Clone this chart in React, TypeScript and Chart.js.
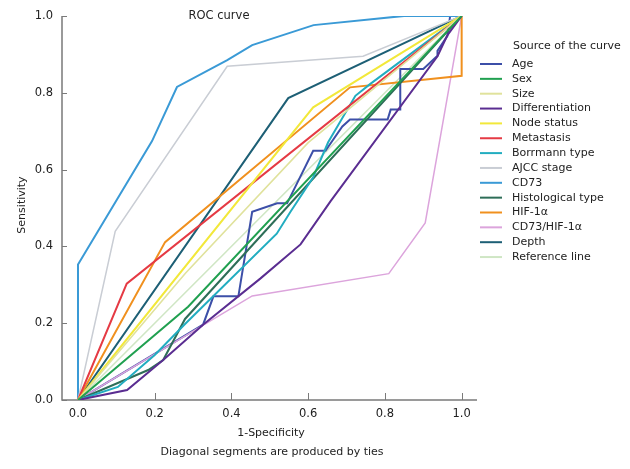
import React, { useEffect, useRef } from 'react';
import { Chart, registerables } from 'chart.js';

Chart.register(...registerables);

type P = [number, number];

// ---- data (1-Specificity, Sensitivity) ----
const seriesNames = [
  'Age', 'Sex', 'Size', 'Differentiation', 'Node status', 'Metastasis', 'Borrmann type',
  'AJCC stage', 'CD73', 'Histological type', 'HIF-1α', 'CD73/HIF-1α', 'Depth', 'Reference line',
];

const age: P[] = [
  [0, 0], [0.326, 0.196], [0.353, 0.27], [0.418, 0.27], [0.454, 0.49], [0.519, 0.512],
  [0.545, 0.512], [0.613, 0.649], [0.645, 0.649], [0.689, 0.712], [0.709, 0.73], [0.807, 0.73],
  [0.815, 0.756], [0.84, 0.756], [0.84, 0.862], [0.9, 0.862], [0.937, 0.896], [0.937, 0.909],
  [0.963, 0.948], [0.97, 1], [1, 1],
];
const sex: P[] = [[0, 0], [0.287, 0.243], [1, 1]];
const size: P[] = [[0, 0], [0.28, 0.33], [0.6, 0.67], [1, 1]];
const differentiation: P[] = [
  [0, 0], [0.128, 0.026], [0.222, 0.104], [0.326, 0.196], [0.475, 0.316], [0.58, 0.405],
  [0.658, 0.517], [0.937, 0.895], [0.963, 0.95], [1, 1],
];
const nodeStatus: P[] = [[0, 0], [0.613, 0.762], [1, 1]];
const metastasis: P[] = [[0, 0], [0.127, 0.303], [1, 1]];
const borrmann: P[] = [
  [0, 0], [0.104, 0.034], [0.2, 0.117], [0.279, 0.198], [0.518, 0.433], [0.553, 0.489],
  [0.613, 0.58], [0.652, 0.671], [0.723, 0.792], [0.762, 0.823], [1, 1],
];
const ajcc: P[] = [[0, 0], [0.097, 0.439], [0.389, 0.869], [0.743, 0.895], [1, 1]];
const cd73: P[] = [
  [0, 0], [0, 0.353], [0.193, 0.674], [0.258, 0.815], [0.389, 0.885], [0.454, 0.924],
  [0.614, 0.976], [0.85, 1], [1, 1],
];
const histological: P[] = [[0, 0], [0.183, 0.078], [0.222, 0.104], [0.279, 0.211], [1, 1]];
const hif: P[] = [[0, 0], [0.227, 0.411], [0.709, 0.814], [1, 0.844], [1, 1]];
const cd73hif: P[] = [[0, 0], [0.454, 0.271], [0.81, 0.329], [0.905, 0.461], [1, 1]];
const depth: P[] = [[0, 0], [0.548, 0.786], [1, 1]];
const reference: P[] = [[0, 0], [1, 1]];

const seriesData: P[][] = [
  age, sex, size, differentiation, nodeStatus, metastasis, borrmann,
  ajcc, cd73, histological, hif, cd73hif, depth, reference,
];

const seriesColors = [
  '#3c4fa8', '#20a050', '#e0e29c', '#5a2d91', '#f2e83a', '#e53a44', '#22adc0',
  '#c9cdd4', '#3a9ad6', '#2e6e58', '#f0901e', '#dca4dc', '#1d5f75', '#cfe6c4',
];
const seriesWidths = [2, 2, 1.6, 2, 2, 2, 2, 1.5, 2, 2, 2, 1.5, 2, 1.5];
const seriesOrder = [1, 0, 0, 0, 0, 0, 0, 0, 0, 0, 0, 0, 0, 2];

const tickValues = [0, 0.2, 0.4, 0.6, 0.8, 1.0];
const chartTitle = 'ROC curve';
const xTitleLines = ['1-Specificity', 'Diagonal segments are produced by ties'];
const yTitle = 'Sensitivity';
const legendTitle = 'Source of the curve';

const FONT = '"DejaVu Sans", Verdana, sans-serif';
const TEXT = '#222222';

const decorPlugin = {
  id: 'decor',
  beforeDatasetsDraw(chart: any) {
    const ctx = chart.ctx;
    const { left, right, top, bottom } = chart.chartArea;
    const xs = chart.scales.x;
    const ys = chart.scales.y;
    ctx.save();
    ctx.strokeStyle = '#7a7a7a';
    ctx.lineWidth = 1.5;
    ctx.beginPath();
    ctx.moveTo(left, top);
    ctx.lineTo(left, bottom);
    ctx.lineTo(right, bottom);
    ctx.stroke();
    ctx.lineWidth = 1;
    ctx.beginPath();
    tickValues.forEach((v) => {
      const px = Math.round(xs.getPixelForValue(v)) + 0.5;
      ctx.moveTo(px, bottom);
      ctx.lineTo(px, bottom - 7);
      const py = Math.round(ys.getPixelForValue(v)) + 0.5;
      ctx.moveTo(left, py);
      ctx.lineTo(left + 5, py);
    });
    ctx.stroke();
    ctx.restore();
  },
  afterDraw(chart: any) {
    const ctx = chart.ctx;
    ctx.save();
    ctx.fillStyle = TEXT;
    ctx.textBaseline = 'middle';
    // chart title
    ctx.font = `11.5px ${FONT}`;
    ctx.textAlign = 'center';
    ctx.fillText(chartTitle, 219, 16);
    // x title
    ctx.font = `11px ${FONT}`;
    ctx.fillText(xTitleLines[0], 271, 433);
    ctx.fillText(xTitleLines[1], 272, 452);
    // y title
    ctx.save();
    ctx.translate(22, 205);
    ctx.rotate(-Math.PI / 2);
    ctx.fillText(yTitle, 0, 0);
    ctx.restore();
    // legend
    ctx.textAlign = 'left';
    ctx.fillText(legendTitle, 513, 46);
    seriesNames.forEach((name, i) => {
      const y = 64 + i * 14.85;
      ctx.strokeStyle = seriesColors[i];
      ctx.lineWidth = 2;
      ctx.beginPath();
      ctx.moveTo(480, y);
      ctx.lineTo(502, y);
      ctx.stroke();
      ctx.fillStyle = TEXT;
      ctx.fillText(name, 512, y);
    });
    ctx.restore();
  },
};

export default function App() {
  const canvasRef = useRef<HTMLCanvasElement | null>(null);

  useEffect(() => {
    if (!canvasRef.current) return;
    const chart = new Chart(canvasRef.current, {
      type: 'scatter',
      data: {
        datasets: seriesNames.map((name, i) => ({
          label: name,
          data: seriesData[i].map(([x, y]) => ({ x, y })),
          showLine: true,
          borderColor: seriesColors[i],
          backgroundColor: seriesColors[i],
          borderWidth: seriesWidths[i],
          pointRadius: 0,
          pointHoverRadius: 0,
          tension: 0,
          fill: false,
          order: seriesOrder[i],
        })),
      },
      options: {
        animation: false,
        responsive: false,
        maintainAspectRatio: false,
        layout: { padding: { left: 0, top: 15, right: 153, bottom: 0 } },
        plugins: {
          legend: { display: false },
          title: { display: false },
          tooltip: { enabled: false },
        },
        scales: {
          x: {
            type: 'linear',
            min: -0.0417,
            max: 1.04,
            grid: { display: false, drawTicks: false },
            border: { display: false },
            afterBuildTicks: (s: any) => {
              s.ticks = tickValues.map((v) => ({ value: v }));
            },
            afterFit: (s: any) => {
              s.height = 69;
            },
            ticks: {
              autoSkip: false,
              maxRotation: 0,
              padding: 7,
              color: TEXT,
              font: { family: FONT, size: 11.5 },
              callback: (v: any) => Number(v).toFixed(1),
            },
          },
          y: {
            type: 'linear',
            min: 0,
            max: 1,
            grid: { display: false, drawTicks: false },
            border: { display: false },
            afterBuildTicks: (s: any) => {
              s.ticks = tickValues.map((v) => ({ value: v }));
            },
            afterFit: (s: any) => {
              s.width = 62;
            },
            ticks: {
              autoSkip: false,
              padding: 9,
              color: TEXT,
              font: { family: FONT, size: 11.5 },
              callback: (v: any) => Number(v).toFixed(1),
            },
          },
        },
      } as any,
      plugins: [decorPlugin],
    });
    return () => chart.destroy();
  }, []);

  return (
    <div style={{ position: 'fixed', left: 0, top: 0, width: 630, height: 469, background: '#ffffff' }}>
      <canvas ref={canvasRef} width={630} height={469} style={{ display: 'block' }} />
    </div>
  );
}
